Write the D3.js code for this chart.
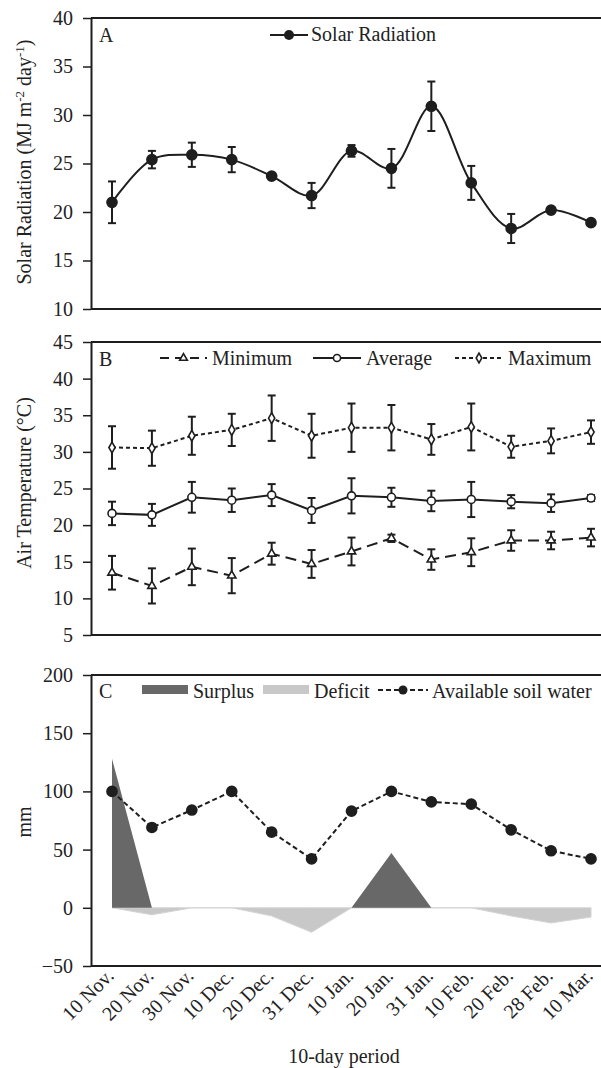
<!DOCTYPE html>
<html>
<head>
<meta charset="utf-8">
<script src="https://cdn.jsdelivr.net/npm/d3@7"></script>
<style>
  body { margin: 0; background: #fff; }
  text { font-family: "Liberation Serif", "Times New Roman", serif; fill: #222; }
</style>
</head>
<body>
<script>
// data
const categories = ["10 Nov.", "20 Nov.", "30 Nov.", "10 Dec.", "20 Dec.", "31 Dec.", "10 Jan.",
                    "20 Jan.", "31 Jan.", "10 Feb.", "20 Feb.", "28 Feb.", "10 Mar."];

const solar   = [21.0, 25.4, 25.9, 25.4, 23.7, 21.7, 26.3, 24.5, 30.9, 23.0, 18.3, 20.2, 18.9];
const solarSd = [2.15, 0.9, 1.25, 1.3, 0, 1.3, 0.6, 2.0, 2.55, 1.75, 1.5, 0, 0];

const tMax   = [30.6, 30.5, 32.2, 33.0, 34.6, 32.2, 33.3, 33.3, 31.7, 33.4, 30.7, 31.5, 32.7];
const tMaxSd = [2.9, 2.4, 2.6, 2.2, 3.1, 3.0, 3.3, 3.1, 2.1, 3.2, 1.5, 1.7, 1.6];
const tAvg   = [21.6, 21.4, 23.8, 23.4, 24.1, 22.0, 24.0, 23.8, 23.3, 23.5, 23.2, 23.0, 23.7];
const tAvgSd = [1.6, 1.5, 2.1, 1.6, 1.5, 1.7, 2.4, 1.3, 1.4, 2.4, 0.9, 1.2, 0.4];
const tMin   = [13.5, 11.7, 14.3, 13.1, 16.1, 14.7, 16.4, 18.2, 15.3, 16.3, 17.9, 17.9, 18.3];
const tMinSd = [2.3, 2.4, 2.5, 2.4, 1.5, 1.9, 1.9, 0.5, 1.4, 1.9, 1.4, 1.2, 1.2];

const soilWater = [100, 69, 84, 100, 65, 42, 83, 100, 91, 89, 67, 49, 42];
const surplus   = [128, 0, 0, 0, 0, 0, 0, 47, 0, 0, 0, 0, 0];
const deficit   = [0, -6, 0, 0, -7, -21, 0, 0, 0, 0, -7, -13, -8];

const ticksA = [10, 15, 20, 25, 30, 35, 40];
const ticksB = [5, 10, 15, 20, 25, 30, 35, 40, 45];
const ticksC = [-50, 0, 50, 100, 150, 200];

const w = 601, h = 1068;
const left = 91, right = 601;
const ink = "#1e1e1e";

const svg = d3.select("body").append("svg")
  .attr("width", w).attr("height", h);

const x = d3.scalePoint().domain(categories).range([112, 591]);

const yA = d3.scaleLinear().domain([10, 40]).range([309, 18]);
const yB = d3.scaleLinear().domain([5, 45]).range([635, 342]);
const yC = d3.scaleLinear().domain([-50, 200]).range([966, 675]);

// frame: left axis with outward ticks, top and bottom lines (no right border)
function frame(y, ticks) {
  const [y0, y1] = y.range();
  svg.append("line").attr("x1", left).attr("x2", right).attr("y1", y1).attr("y2", y1)
     .attr("stroke", ink).attr("stroke-width", 2);
  svg.append("line").attr("x1", left).attr("x2", right).attr("y1", y0).attr("y2", y0)
     .attr("stroke", ink).attr("stroke-width", 2);
  const ax = svg.append("g")
    .attr("transform", `translate(${left},0)`)
    .call(d3.axisLeft(y).tickValues(ticks).tickSize(8).tickPadding(10).tickSizeOuter(0));
  ax.select(".domain").attr("stroke", ink).attr("stroke-width", 2);
  ax.selectAll(".tick line").attr("stroke", ink).attr("stroke-width", 1.5);
  ax.selectAll(".tick text").attr("font-size", 20).attr("fill", "#222")
    .attr("font-family", "Liberation Serif, serif");
}

function yTitle(cy, build) {
  const t = svg.append("text")
    .attr("transform", `translate(31,${cy}) rotate(-90)`)
    .attr("text-anchor", "middle")
    .attr("font-size", 20);
  build(t);
}

function errorBars(y, vals, sds) {
  const g = svg.append("g").attr("stroke", ink).attr("stroke-width", 2);
  vals.forEach((v, i) => {
    if (!sds[i]) return;
    const cx = x(categories[i]);
    const top = y(v + sds[i]), bot = y(v - sds[i]);
    g.append("line").attr("x1", cx).attr("x2", cx).attr("y1", top).attr("y2", bot);
    g.append("line").attr("x1", cx - 4).attr("x2", cx + 4).attr("y1", top).attr("y2", top);
    g.append("line").attr("x1", cx - 4).attr("x2", cx + 4).attr("y1", bot).attr("y2", bot);
  });
}

function seriesLine(y, vals, dash, curve) {
  const line = d3.line()
    .x((d, i) => x(categories[i]))
    .y(d => y(d))
    .curve(curve || d3.curveLinear);
  svg.append("path").datum(vals)
    .attr("d", line)
    .attr("fill", "none")
    .attr("stroke", ink)
    .attr("stroke-width", 2)
    .attr("stroke-dasharray", dash);
}

function markers(y, vals, type, size, fill) {
  svg.append("g").selectAll("path")
    .data(vals)
    .join("path")
    .attr("transform", (d, i) => `translate(${x(categories[i])},${y(d)})`)
    .attr("d", d3.symbol(type, size))
    .attr("fill", fill)
    .attr("stroke", ink)
    .attr("stroke-width", 1.6);
}

// ---------- panel A ----------
frame(yA, ticksA);
yTitle(162, t => {
  t.append("tspan").text("Solar Radiation (MJ m");
  t.append("tspan").text("-2").attr("font-size", 13).attr("dy", -7);
  t.append("tspan").text(" day").attr("font-size", 20).attr("dy", 7);
  t.append("tspan").text("-1").attr("font-size", 13).attr("dy", -7);
  t.append("tspan").text(")").attr("font-size", 20).attr("dy", 7);
});
svg.append("text").attr("x", 99).attr("y", 42).attr("font-size", 20).text("A");

errorBars(yA, solar, solarSd);
seriesLine(yA, solar, null, d3.curveCatmullRom.alpha(0.5));
markers(yA, solar, d3.symbolCircle, 80, ink);

// legend A
svg.append("line").attr("x1", 270).attr("x2", 308).attr("y1", 35).attr("y2", 35)
  .attr("stroke", ink).attr("stroke-width", 2);
svg.append("circle").attr("cx", 289).attr("cy", 35).attr("r", 5).attr("fill", ink);
svg.append("text").attr("x", 311).attr("y", 41).attr("font-size", 20).text("Solar Radiation");

// ---------- panel B ----------
frame(yB, ticksB);
yTitle(483, t => t.text("Air Temperature (°C)"));
svg.append("text").attr("x", 99).attr("y", 366).attr("font-size", 20).text("B");

errorBars(yB, tMax, tMaxSd);
errorBars(yB, tAvg, tAvgSd);
errorBars(yB, tMin, tMinSd);
seriesLine(yB, tMax, "4,3");
seriesLine(yB, tAvg, null);
seriesLine(yB, tMin, "11,6");
markers(yB, tMax, d3.symbolDiamond, 34, "#fff");
markers(yB, tAvg, d3.symbolCircle, 50, "#fff");
markers(yB, tMin, d3.symbolTriangle, 30, "#fff");

// legend B
const legB = [
  { name: "Minimum", x1: 160, x2: 207, dash: "9,6", sym: d3.symbolTriangle, size: 26, tx: 212 },
  { name: "Average", x1: 313, x2: 361, dash: null, sym: d3.symbolCircle, size: 40, tx: 366 },
  { name: "Maximum", x1: 455, x2: 503, dash: "4,3", sym: d3.symbolDiamond, size: 28, tx: 508 }
];
legB.forEach(l => {
  svg.append("line").attr("x1", l.x1).attr("x2", l.x2).attr("y1", 358).attr("y2", 358)
    .attr("stroke", ink).attr("stroke-width", 2).attr("stroke-dasharray", l.dash);
  svg.append("path").attr("transform", `translate(${(l.x1 + l.x2) / 2},358)`)
    .attr("d", d3.symbol(l.sym, l.size)).attr("fill", "#fff")
    .attr("stroke", ink).attr("stroke-width", 1.6);
  svg.append("text").attr("x", l.tx).attr("y", 365).attr("font-size", 20).text(l.name);
});

// ---------- panel C ----------
const area = d3.area()
  .x((d, i) => x(categories[i]))
  .y0(yC(0))
  .y1(d => yC(d));

svg.append("path").datum(deficit).attr("d", area)
  .attr("fill", "#c8c8c8").attr("stroke", "#d4d4d4").attr("stroke-width", 1);
svg.append("path").datum(surplus).attr("d", area)
  .attr("fill", "#686868");

frame(yC, ticksC);
yTitle(822, t => t.text("mm"));
svg.append("text").attr("x", 99).attr("y", 698).attr("font-size", 20).text("C");

seriesLine(yC, soilWater, "5,3");
markers(yC, soilWater, d3.symbolCircle, 80, ink);

// legend C
svg.append("rect").attr("x", 142).attr("y", 685).attr("width", 46).attr("height", 9).attr("fill", "#686868");
svg.append("text").attr("x", 193).attr("y", 698).attr("font-size", 20).text("Surplus");
svg.append("rect").attr("x", 263).attr("y", 685).attr("width", 46).attr("height", 9).attr("fill", "#c8c8c8");
svg.append("text").attr("x", 314).attr("y", 698).attr("font-size", 20).text("Deficit");
svg.append("line").attr("x1", 378).attr("x2", 428).attr("y1", 690).attr("y2", 690)
  .attr("stroke", ink).attr("stroke-width", 2).attr("stroke-dasharray", "5,3");
svg.append("circle").attr("cx", 403).attr("cy", 690).attr("r", 4.5).attr("fill", ink);
svg.append("text").attr("x", 432).attr("y", 698).attr("font-size", 20).text("Available soil water");

// x labels, rotated
svg.append("g").selectAll("text")
  .data(categories)
  .join("text")
  .attr("transform", d => `translate(${x(d) + 3},977) rotate(-45)`)
  .attr("text-anchor", "end")
  .attr("font-size", 20)
  .text(d => d);

svg.append("text").attr("x", 344).attr("y", 1063)
  .attr("text-anchor", "middle").attr("font-size", 20).text("10-day period");
</script>
</body>
</html>
